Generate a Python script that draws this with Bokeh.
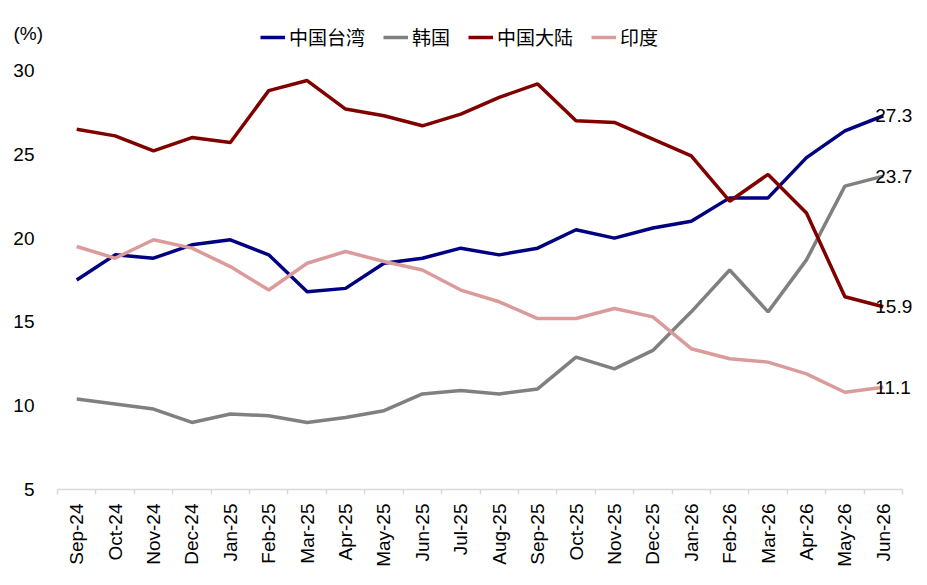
from bokeh.plotting import figure
from bokeh.models import (Range1d, FixedTicker, Legend, LegendItem, Label, ColumnDataSource, LabelSet)
from bokeh.core.properties import value
from bokeh.embed import file_html
from bokeh.resources import INLINE

months = ["Sep-24", "Oct-24", "Nov-24", "Dec-24", "Jan-25", "Feb-25", "Mar-25", "Apr-25",
          "May-25", "Jun-25", "Jul-25", "Aug-25", "Sep-25", "Oct-25", "Nov-25", "Dec-25",
          "Jan-26", "Feb-26", "Mar-26", "Apr-26", "May-26", "Jun-26"]

taiwan = [17.5, 19.0, 18.8, 19.6, 19.9, 19.0, 16.8, 17.0, 18.5, 18.8, 19.4, 19.0,
          19.4, 20.5, 20.0, 20.6, 21.0, 22.4, 22.4, 24.8, 26.4, 27.3]
korea = [10.4, 10.1, 9.8, 9.0, 9.5, 9.4, 9.0, 9.3, 9.7, 10.7, 10.9, 10.7,
         11.0, 12.9, 12.2, 13.3, 15.6, 18.1, 15.6, 18.7, 23.1, 23.7]
mainland = [26.5, 26.1, 25.2, 26.0, 25.7, 28.8, 29.4, 27.7, 27.3, 26.7, 27.4, 28.4,
            29.2, 27.0, 26.9, 25.9, 24.9, 22.2, 23.8, 21.5, 16.5, 15.9]
india = [19.5, 18.8, 19.9, 19.4, 18.3, 16.9, 18.5, 19.2, 18.6, 18.1, 16.9, 16.2,
         15.2, 15.2, 15.8, 15.3, 13.4, 12.8, 12.6, 11.9, 10.8, 11.1]

series_names = ["中国台湾", "韩国", "中国大陆", "印度"]
series_colors = ["#000080", "#808080", "#800000", "#DB9B9B"]
y_ticks = [5, 10, 15, 20, 25, 30]

n = len(months)
xs = [i + 0.5 for i in range(n)]

# layout in pixels (the frame covers the whole figure; axes sit at fixed locations)
W, H = 919, 577
plot_left, plot_right, plot_top, plot_bottom = 57, 902, 70, 489
cat_w = (plot_right - plot_left) / n
px_per_unit = (plot_bottom - plot_top) / (y_ticks[-1] - y_ticks[0])
x_start = -plot_left / cat_w
x_end = n + (W - plot_right) / cat_w
y_start = y_ticks[0] - (H - plot_bottom) / px_per_unit
y_end = y_ticks[-1] + plot_top / px_per_unit

p = figure(width=W, height=H, output_backend="svg", toolbar_location=None,
           x_range=Range1d(x_start, x_end), y_range=Range1d(y_start, y_end),
           min_border_left=0, min_border_right=0, min_border_top=0, min_border_bottom=0)
p.outline_line_color = None
p.xgrid.grid_line_color = None
p.ygrid.grid_line_color = None
p.background_fill_color = "white"
p.border_fill_color = "white"

num_font = "Liberation Sans"

# x axis at y = 5
p.xaxis.fixed_location = y_ticks[0]
p.xaxis.ticker = FixedTicker(ticks=xs, minor_ticks=list(range(n + 1)))
p.xaxis.bounds = (0, n)
p.xaxis.major_label_overrides = {x: m for x, m in zip(xs, months)}
p.xaxis.major_label_orientation = 1.5707963267948966
p.xaxis.axis_line_color = "#d9d9d9"
p.xaxis.axis_line_width = 1.5
p.xaxis.major_tick_line_color = None
p.xaxis.major_tick_out = 5
p.xaxis.major_tick_in = 0
p.xaxis.minor_tick_line_color = "#d9d9d9"
p.xaxis.minor_tick_line_width = 1.5
p.xaxis.minor_tick_out = 5
p.xaxis.minor_tick_in = 0
p.xaxis.major_label_standoff = 9
p.xaxis.major_label_text_font = num_font
p.xaxis.major_label_text_font_size = "19px"
p.xaxis.major_label_text_color = "black"

# y axis at the left edge of the data area
p.yaxis.fixed_location = 0
p.yaxis.ticker = FixedTicker(ticks=y_ticks)
p.yaxis.axis_line_color = None
p.yaxis.major_tick_line_color = None
p.yaxis.minor_tick_line_color = None
p.yaxis.major_tick_out = 0
p.yaxis.major_tick_in = 0
p.yaxis.major_label_standoff = 23
p.yaxis.major_label_text_font = num_font
p.yaxis.major_label_text_font_size = "19px"
p.yaxis.major_label_text_color = "black"

all_series = [taiwan, korea, mainland, india]
items = []
for name, col, ys in zip(series_names, series_colors, all_series):
    r = p.line(xs, ys, line_color=col, line_width=3.5)
    items.append(LegendItem(label=name, renderers=[r]))

# end labels
src = ColumnDataSource(dict(x=[xs[-1]] * 4, y=[s[-1] for s in all_series],
                            t=[f"{s[-1]:.1f}" for s in all_series]))
labels = LabelSet(x="x", y="y", text="t", source=src, x_offset=-8,
                  text_align="left", text_baseline="middle",
                  text_font=value(num_font), text_font_size="19px", text_color="black")
p.add_layout(labels)

legend = Legend(items=items, orientation="horizontal", location=(260, H - 50),
                glyph_width=25, glyph_height=20, label_standoff=4, spacing=18,
                padding=0, margin=0, border_line_color=None, background_fill_alpha=0,
                label_text_font="Noto Sans CJK SC", label_text_font_size="19px",
                label_text_color="black", label_height=20)
p.add_layout(legend, "center")

unit = Label(x=13, y=H - 33, x_units="screen", y_units="screen", text="(%)",
             text_font=num_font, text_font_size="19px", text_color="black",
             text_baseline="middle", text_align="left")
p.add_layout(unit)

open("out.html", "w").write(file_html(p, INLINE))
